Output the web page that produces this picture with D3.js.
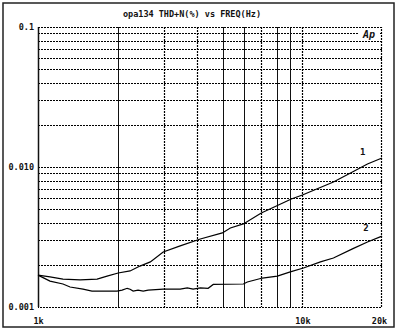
<!DOCTYPE html>
<html>
<head>
<meta charset="utf-8">
<script src="https://cdn.jsdelivr.net/npm/d3@7"></script>
<style>
  body { margin: 0; background: #fff; }
  text { font-family: "DejaVu Sans Mono", monospace; font-weight: bold; fill: #111; }
</style>
</head>
<body>
<script>
// data
var freq1 = [1000, 1110, 1243, 1443, 1673, 1825, 2010, 2230, 2430, 2660, 2975, 3450, 4110, 4980, 5340, 5980, 6990, 7970, 9080, 10000, 13100, 15460, 17620, 20000];
var thd1 = [0.00169, 0.00164, 0.00158, 0.00156, 0.00158, 0.00166, 0.00175, 0.00181, 0.00196, 0.0021, 0.00247, 0.00273, 0.00306, 0.00338, 0.00367, 0.00392, 0.00469, 0.00527, 0.00591, 0.00631, 0.00782, 0.00921, 0.0105, 0.0116];

var freq2 = [1000, 1110, 1243, 1322, 1480, 1600, 1990, 2080, 2175, 2230, 2290, 2390, 2500, 2610, 2975, 3450, 3670, 3860, 4110, 4400, 4600, 5980, 6190, 7060, 8040, 9000, 10090, 11700, 13100, 15460, 17620, 20000];
var thd2 = [0.00169, 0.00153, 0.00146, 0.00139, 0.00134, 0.0013, 0.0013, 0.00132, 0.00136, 0.00134, 0.0013, 0.00132, 0.0013, 0.00132, 0.00134, 0.00134, 0.00137, 0.00134, 0.00137, 0.00136, 0.00145, 0.00146, 0.00151, 0.00161, 0.00166, 0.00178, 0.0019, 0.0021, 0.00224, 0.0026, 0.00291, 0.00321];

var xTickVals = [1000, 10000, 20000];
var xTickText = ["1k", "10k", "20k"];
var yTickVals = [0.1, 0.01, 0.001];
var yTickText = ["0.1", "0.010", "0.001"];

var xGridSolid = [2000, 5000, 6000, 8000, 9000];
var xGridDotted = [3000, 4000, 7000, 10000];
var yGrid = [0.002, 0.003, 0.004, 0.005, 0.006, 0.007, 0.008, 0.009, 0.01,
             0.02, 0.03, 0.04, 0.05, 0.06, 0.07, 0.08, 0.09];

var svgWidth = 397;
var svgHeight = 331;

var margin = { top: 27, right: 15, bottom: 24, left: 38 };
var width = svgWidth - margin.left - margin.right;
var height = svgHeight - margin.top - margin.bottom;

var svg = d3.select("body")
  .append("svg")
  .attr("width", svgWidth)
  .attr("height", svgHeight);

// outer frame of the scanned sheet
svg.append("rect")
  .attr("x", 3)
  .attr("y", 3)
  .attr("width", 391)
  .attr("height", 324)
  .attr("fill", "none")
  .attr("stroke", "#222")
  .attr("stroke-width", 1.5);

svg.append("text")
  .attr("x", 192)
  .attr("y", 17)
  .attr("text-anchor", "middle")
  .attr("font-size", "8.5px")
  .text("opa134 THD+N(%) vs FREQ(Hz)");

var chartGroup = svg.append("g")
  .attr("transform", `translate(${margin.left}, ${margin.top})`);

var xScale = d3.scaleLog()
  .domain([1000, 20000])
  .range([0, width]);

var yScale = d3.scaleLog()
  .domain([0.001, 0.1])
  .range([height, 0]);

// horizontal dotted grid
chartGroup.selectAll(".hgrid")
  .data(yGrid)
  .enter()
  .append("line")
  .attr("x1", 0)
  .attr("x2", width)
  .attr("y1", d => Math.round(yScale(d)) + 0.5)
  .attr("y2", d => Math.round(yScale(d)) + 0.5)
  .attr("stroke", "#000")
  .attr("stroke-width", 1.2)
  .attr("stroke-dasharray", "2,1");

// vertical grid
chartGroup.selectAll(".vsolid")
  .data(xGridSolid)
  .enter()
  .append("line")
  .attr("x1", d => Math.round(xScale(d)) + 0.5)
  .attr("x2", d => Math.round(xScale(d)) + 0.5)
  .attr("y1", 0)
  .attr("y2", height)
  .attr("stroke", "#111");

chartGroup.selectAll(".vdot")
  .data(xGridDotted)
  .enter()
  .append("line")
  .attr("x1", d => Math.round(xScale(d)) + 0.5)
  .attr("x2", d => Math.round(xScale(d)) + 0.5)
  .attr("y1", 0)
  .attr("y2", height)
  .attr("stroke", "#000")
  .attr("stroke-width", 1.2)
  .attr("stroke-dasharray", "2,1");

// plot box: left solid, rest dotted
chartGroup.append("line")
  .attr("x1", 0.5).attr("x2", 0.5)
  .attr("y1", 0).attr("y2", height)
  .attr("stroke", "#111").attr("stroke-width", 1.5);
chartGroup.append("path")
  .attr("d", `M0,0.5H${width - 0.5}V${height + 0.5}H0`)
  .attr("fill", "none")
  .attr("stroke", "#000")
  .attr("stroke-width", 1.2)
  .attr("stroke-dasharray", "2,1");

// axis labels
var bottomAxis = d3.axisBottom(xScale)
  .tickValues(xTickVals)
  .tickSize(0)
  .tickPadding(11)
  .tickFormat((d, i) => xTickText[i]);

var leftAxis = d3.axisLeft(yScale)
  .tickValues(yTickVals)
  .tickSize(0)
  .tickPadding(4)
  .tickFormat((d, i) => yTickText[i]);

var xAxis = chartGroup.append("g")
  .attr("transform", `translate(0, ${height})`)
  .call(bottomAxis);
xAxis.select(".domain").remove();
xAxis.selectAll("text")
  .attr("font-family", "DejaVu Sans Mono")
  .attr("font-weight", "bold")
  .attr("font-size", "8.5px")
  .attr("fill", "#111");
xAxis.selectAll(".tick").filter(d => d === 20000)
  .select("text").attr("dx", "-3");

var yAxis = chartGroup.append("g")
  .call(leftAxis);
yAxis.select(".domain").remove();
yAxis.selectAll("text")
  .attr("font-family", "DejaVu Sans Mono")
  .attr("font-weight", "bold")
  .attr("font-size", "8.5px")
  .attr("fill", "#111");

// curves
var line = d3.line()
  .x(d => xScale(d[0]))
  .y(d => yScale(d[1]));

chartGroup.append("path")
  .datum(d3.zip(freq1, thd1))
  .attr("d", line)
  .attr("fill", "none")
  .attr("stroke", "#000")
  .attr("stroke-width", 1.2);

chartGroup.append("path")
  .datum(d3.zip(freq2, thd2))
  .attr("d", line)
  .attr("fill", "none")
  .attr("stroke", "#000")
  .attr("stroke-width", 1.2);

// curve labels
chartGroup.append("text")
  .attr("x", xScale(16900))
  .attr("y", yScale(0.0122))
  .attr("text-anchor", "middle")
  .attr("font-size", "9px")
  .text("1");

chartGroup.append("text")
  .attr("x", xScale(17400))
  .attr("y", yScale(0.0035))
  .attr("text-anchor", "middle")
  .attr("font-size", "9px")
  .text("2");

// Ap logo
chartGroup.append("rect")
  .attr("x", 320)
  .attr("y", 2)
  .attr("width", 21)
  .attr("height", 11)
  .attr("fill", "#fff");

chartGroup.append("text")
  .attr("x", 325)
  .attr("y", 11)
  .attr("font-family", "DejaVu Sans")
  .attr("font-weight", "normal")
  .attr("font-style", "italic")
  .attr("font-size", "10px")
  .text("Ap");
</script>
</body>
</html>
